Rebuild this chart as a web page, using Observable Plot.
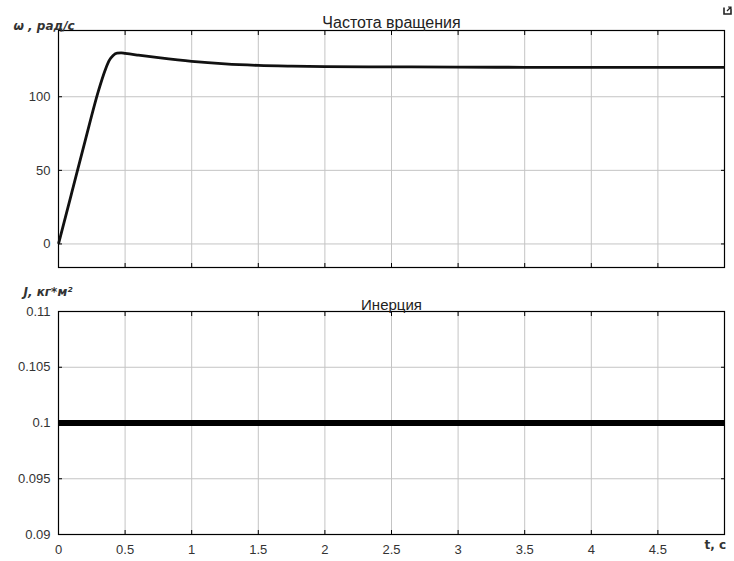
<!DOCTYPE html>
<html>
<head>
<meta charset="utf-8">
<script src="https://cdn.jsdelivr.net/npm/d3@7"></script>
<script src="https://cdn.jsdelivr.net/npm/@observablehq/plot@0.6"></script>
<style>
  html, body { margin: 0; padding: 0; background: #fff; }
  #chart { position: relative; width: 734px; height: 561px; background: #fff; }
  #speedPanel, #inertiaPanel { position: absolute; left: 0; }
  #speedPanel { top: 0; }
  #inertiaPanel { top: 280px; }
  #dock { position: absolute; left: 723px; top: 6px; }
</style>
</head>
<body>
<div id="chart">
  <div id="speedPanel"></div>
  <div id="inertiaPanel"></div>
  <svg id="dock" width="9" height="9" viewBox="0 0 9 9">
    <path d="M1 1.5 V8 H8 V3.5" fill="none" stroke="#222" stroke-width="1.6"/>
    <path d="M4 5 L8 1 M5 1 H8 V4" fill="none" stroke="#222" stroke-width="1.2"/>
  </svg>
</div>
<script>
// Rotation speed ω(t), rad/s
const time = [0, 0.1, 0.2, 0.3, 0.35, 0.38, 0.41, 0.44, 0.47, 0.5, 0.6, 0.75, 1.0, 1.25, 1.5, 1.75, 2.0, 2.5, 3.0, 3.5, 4.0, 4.5, 5.0];
const omega = [0, 35, 70, 104, 118, 124.5, 128, 129.6, 129.8, 129.4, 128.2, 126.5, 124.0, 122.3, 121.3, 120.8, 120.5, 120.3, 120.1, 120, 119.9, 119.9, 119.9];

// Moment of inertia J(t), kg·m²
const inertiaTime = [0, 5];
const inertia = [0.1, 0.1];

// Tick positions and labels
const xTicks = [0, 0.5, 1, 1.5, 2, 2.5, 3, 3.5, 4, 4.5];
const xTickLabels = ["0", "0.5", "1", "1.5", "2", "2.5", "3", "3.5", "4", "4.5"];
const omegaTicks = [0, 50, 100];
const inertiaTicks = [0.09, 0.095, 0.1, 0.105, 0.11];
const inertiaTickLabels = ["0.09", "0.095", "0.1", "0.105", "0.11"];

const speedTitle = "Частота вращения";
const inertiaTitle = "Инерция";
const omegaLabel = "ω , рад/с";
const inertiaLabel = "J, кг*м²";
const timeLabel = "t, c";

const speedRows = time.map((t, i) => ({t, w: omega[i]}));
const inertiaRows = inertiaTime.map((t, i) => ({t, J: inertia[i]}));

const gridColor = "#c4c4c4";
const baseStyle = {fontFamily: "'Liberation Sans', Arial, sans-serif", fontSize: "13px", color: "#333", background: "#fff", overflow: "visible"};
const labelFont = "'DejaVu Sans', Verdana, sans-serif";

const speedChart = Plot.plot({
  width: 734, height: 280,
  marginLeft: 58, marginRight: 10, marginTop: 30, marginBottom: 13,
  style: baseStyle,
  x: {domain: [0, 5], label: null},
  y: {domain: [-16, 145], label: null},
  marks: [
    Plot.gridX(xTicks, {stroke: gridColor, strokeOpacity: 1}),
    Plot.gridY(omegaTicks, {stroke: gridColor, strokeOpacity: 1}),
    Plot.axisY(omegaTicks, {anchor: "left", tickSize: -4, tickPadding: 12, stroke: "#000", fill: "#333", tickFormat: d => String(d)}),
    Plot.axisY(omegaTicks, {anchor: "right", tickSize: -4, stroke: "#000", tickFormat: () => ""}),
    Plot.axisX(xTicks, {anchor: "bottom", tickSize: -4, stroke: "#000", tickFormat: () => ""}),
    Plot.axisX(xTicks, {anchor: "top", tickSize: -4, stroke: "#000", tickFormat: () => ""}),
    Plot.frame({stroke: "#000", strokeWidth: 1.2}),
    Plot.line(speedRows, {x: "t", y: "w", stroke: "#111", strokeWidth: 2.8, curve: "monotone-x", strokeLinecap: "butt"}),
    Plot.text([speedTitle], {frameAnchor: "top", dy: -14, fontSize: 16, fill: "#222"}),
    Plot.text([omegaLabel], {frameAnchor: "top-left", dx: -45, dy: -9, textAnchor: "start", fontFamily: labelFont, fontWeight: "bold", fontStyle: "italic", fontSize: 12, fill: "#333"})
  ]
});

const inertiaChart = Plot.plot({
  width: 734, height: 281,
  marginLeft: 58, marginRight: 10, marginTop: 31, marginBottom: 27,
  style: baseStyle,
  x: {domain: [0, 5], label: null},
  y: {domain: [0.09, 0.11], label: null},
  marks: [
    Plot.gridX(xTicks, {stroke: gridColor, strokeOpacity: 1}),
    Plot.gridY(inertiaTicks, {stroke: gridColor, strokeOpacity: 1}),
    Plot.axisY(inertiaTicks, {anchor: "left", tickSize: -4, tickPadding: 12, stroke: "#000", fill: "#333", tickFormat: (d, i) => inertiaTickLabels[i]}),
    Plot.axisY(inertiaTicks, {anchor: "right", tickSize: -4, stroke: "#000", tickFormat: () => ""}),
    Plot.axisX(xTicks, {anchor: "bottom", tickSize: -4, tickPadding: 14, stroke: "#000", fill: "#333", tickFormat: (d, i) => xTickLabels[i]}),
    Plot.axisX(xTicks, {anchor: "top", tickSize: -4, stroke: "#000", tickFormat: () => ""}),
    Plot.frame({stroke: "#000", strokeWidth: 1.2}),
    Plot.line(inertiaRows, {x: "t", y: "J", stroke: "#000", strokeWidth: 6, strokeLinecap: "butt"}),
    Plot.text([inertiaTitle], {frameAnchor: "top", dy: -12, fontSize: 15, fill: "#222"}),
    Plot.text([inertiaLabel], {frameAnchor: "top-left", dx: -35, dy: -24, textAnchor: "start", fontFamily: labelFont, fontWeight: "bold", fontStyle: "italic", fontSize: 12, fill: "#333"}),
    Plot.text([timeLabel], {frameAnchor: "bottom-right", dx: -20, dy: 14, textAnchor: "start", fontFamily: labelFont, fontWeight: "bold", fontSize: 12, fill: "#333"})
  ]
});

document.getElementById("speedPanel").append(speedChart);
document.getElementById("inertiaPanel").append(inertiaChart);
</script>
</body>
</html>
